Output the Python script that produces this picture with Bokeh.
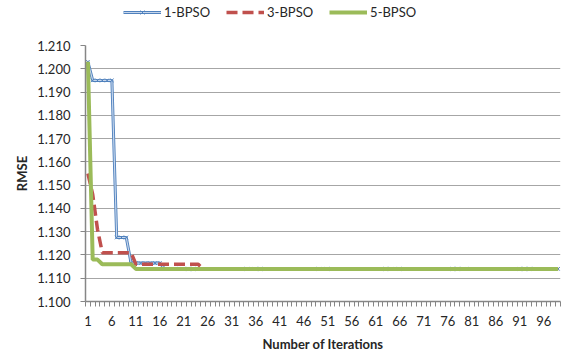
from bokeh.plotting import figure
from bokeh.layouts import column
from bokeh.models import FixedTicker, Legend, LegendItem, Range1d, NumeralTickFormatter
from bokeh.embed import file_html
from bokeh.resources import INLINE

# ---------------- data ----------------
iterations = list(range(1, 100))

bpso1 = [1.203, 1.195, 1.195, 1.195, 1.195, 1.195, 1.1275, 1.1275, 1.1275, 1.1165,
         1.1165, 1.1165, 1.1165, 1.1165, 1.1165, 1.1165, 1.114, 1.114, 1.114, 1.114,
         1.114, 1.114, 1.114, 1.114, 1.114, 1.114, 1.114, 1.114, 1.114, 1.114,
         1.114, 1.114, 1.114, 1.114, 1.114, 1.114, 1.114, 1.114, 1.114, 1.114,
         1.114, 1.114, 1.114, 1.114, 1.114, 1.114, 1.114, 1.114, 1.114, 1.114,
         1.114, 1.114, 1.114, 1.114, 1.114, 1.114, 1.114, 1.114, 1.114, 1.114,
         1.114, 1.114, 1.114, 1.114, 1.114, 1.114, 1.114, 1.114, 1.114, 1.114,
         1.114, 1.114, 1.114, 1.114, 1.114, 1.114, 1.114, 1.114, 1.114, 1.114,
         1.114, 1.114, 1.114, 1.114, 1.114, 1.114, 1.114, 1.114, 1.114, 1.114,
         1.114, 1.114, 1.114, 1.114, 1.114, 1.114, 1.114, 1.114, 1.114]

bpso3 = [1.155, 1.146, 1.131, 1.121, 1.121, 1.121, 1.121, 1.121, 1.121, 1.121,
         1.116, 1.116, 1.116, 1.116, 1.116, 1.116, 1.116, 1.116, 1.116, 1.116,
         1.116, 1.116, 1.116, 1.116, 1.114, 1.114, 1.114, 1.114, 1.114, 1.114,
         1.114, 1.114, 1.114, 1.114, 1.114, 1.114, 1.114, 1.114, 1.114, 1.114,
         1.114, 1.114, 1.114, 1.114, 1.114, 1.114, 1.114, 1.114, 1.114, 1.114,
         1.114, 1.114, 1.114, 1.114, 1.114, 1.114, 1.114, 1.114, 1.114, 1.114,
         1.114, 1.114, 1.114, 1.114, 1.114, 1.114, 1.114, 1.114, 1.114, 1.114,
         1.114, 1.114, 1.114, 1.114, 1.114, 1.114, 1.114, 1.114, 1.114, 1.114,
         1.114, 1.114, 1.114, 1.114, 1.114, 1.114, 1.114, 1.114, 1.114, 1.114,
         1.114, 1.114, 1.114, 1.114, 1.114, 1.114, 1.114, 1.114, 1.114]

bpso5 = [1.203, 1.118, 1.118, 1.116, 1.116, 1.116, 1.116, 1.116, 1.116, 1.116,
         1.114, 1.114, 1.114, 1.114, 1.114, 1.114, 1.114, 1.114, 1.114, 1.114,
         1.114, 1.114, 1.114, 1.114, 1.114, 1.114, 1.114, 1.114, 1.114, 1.114,
         1.114, 1.114, 1.114, 1.114, 1.114, 1.114, 1.114, 1.114, 1.114, 1.114,
         1.114, 1.114, 1.114, 1.114, 1.114, 1.114, 1.114, 1.114, 1.114, 1.114,
         1.114, 1.114, 1.114, 1.114, 1.114, 1.114, 1.114, 1.114, 1.114, 1.114,
         1.114, 1.114, 1.114, 1.114, 1.114, 1.114, 1.114, 1.114, 1.114, 1.114,
         1.114, 1.114, 1.114, 1.114, 1.114, 1.114, 1.114, 1.114, 1.114, 1.114,
         1.114, 1.114, 1.114, 1.114, 1.114, 1.114, 1.114, 1.114, 1.114, 1.114,
         1.114, 1.114, 1.114, 1.114, 1.114, 1.114, 1.114, 1.114, 1.114]

x_tick_values = [1, 6, 11, 16, 21, 26, 31, 36, 41, 46, 51, 56, 61, 66, 71, 76, 81, 86, 91, 96]
y_tick_values = [1.100, 1.110, 1.120, 1.130, 1.140, 1.150, 1.160, 1.170, 1.180, 1.190, 1.200, 1.210]
series_labels = ["1-BPSO", "3-BPSO", "5-BPSO"]

# ---------------- styling ----------------
FONT = "Lato"
TEXT = "#262626"
AXIS = "#868686"
GRID = "#A6A6A6"
BLUE = "#4F81BD"
BLUE_LIGHT = "#C6D6EC"
RED = "#C0504D"
GREEN = "#9BBB59"

blue_outer = dict(line_color=BLUE, line_width=3)
blue_inner = dict(line_color=BLUE_LIGHT, line_width=1.2)
blue_mark = dict(marker="x", size=5, line_color=BLUE, line_width=1)
red_style = dict(line_color=RED, line_width=3.5, line_dash="11 5")
green_style = dict(line_color=GREEN, line_width=4)

# ---------------- main chart ----------------
p = figure(width=566, height=319, output_backend="svg", toolbar_location=None,
           x_range=Range1d(0.5, len(iterations) + 0.5), y_range=Range1d(1.100, 1.210),
           min_border_left=85, min_border_right=6, min_border_top=8, min_border_bottom=55)
p.outline_line_color = None
p.background_fill_color = "white"
p.border_fill_color = "white"
p.xgrid.visible = False
p.ygrid.grid_line_color = GRID
p.ygrid.grid_line_width = 1

p.line(iterations, bpso1, **blue_outer)
p.line(iterations, bpso1, **blue_inner)
p.scatter(iterations, bpso1, **blue_mark)
p.line(iterations, bpso3, **red_style)
p.line(iterations, bpso5, **green_style)

# x axis
p.xaxis.ticker = FixedTicker(ticks=x_tick_values,
                             minor_ticks=[i + 0.5 for i in range(0, len(iterations) + 1)])
p.xaxis.major_tick_out = 0
p.xaxis.major_tick_in = 0
p.xaxis.minor_tick_out = 5
p.xaxis.minor_tick_in = 0
p.xaxis.minor_tick_line_color = AXIS
p.xaxis.axis_line_color = AXIS
p.xaxis.axis_line_width = 1.5
p.xaxis.major_label_standoff = 9
p.xaxis.axis_label = "Number of Iterations"
p.xaxis.axis_label_standoff = 7

# y axis
p.yaxis.ticker = FixedTicker(ticks=y_tick_values, minor_ticks=[])
p.yaxis.formatter = NumeralTickFormatter(format="0.000")
p.yaxis.major_tick_out = 5
p.yaxis.major_tick_in = 0
p.yaxis.major_tick_line_color = AXIS
p.yaxis.axis_line_color = AXIS
p.yaxis.axis_line_width = 1.5
p.yaxis.major_label_standoff = 10
p.yaxis.axis_label = "RMSE"
p.yaxis.axis_label_standoff = 4

for ax in (p.xaxis, p.yaxis):
    ax.major_label_text_font = FONT
    ax.major_label_text_font_size = "13px"
    ax.major_label_text_color = TEXT
    ax.axis_label_text_font = FONT
    ax.axis_label_text_font_size = "13px"
    ax.axis_label_text_font_style = "bold"
    ax.axis_label_text_color = TEXT

# ---------------- legend strip (same series, drawn outside its visible range) ----------------
lg = figure(width=566, height=37, output_backend="svg", toolbar_location=None,
            x_range=Range1d(0, 0.5), y_range=Range1d(0, 0.5),
            x_axis_location=None, y_axis_location=None,
            min_border_left=0, min_border_right=0, min_border_top=0, min_border_bottom=0)
lg.outline_line_color = None
lg.grid.visible = False
lg.border_fill_color = "white"

lb1 = lg.line(iterations, bpso1, **blue_outer)
lb2 = lg.line(iterations, bpso1, **blue_inner)
lb3 = lg.scatter(iterations, bpso1, **blue_mark)
lr = lg.line(iterations, bpso3, **red_style)
lgr = lg.line(iterations, bpso5, **green_style)

legend = Legend(items=[LegendItem(label=series_labels[0], renderers=[lb1, lb2, lb3]),
                       LegendItem(label=series_labels[1], renderers=[lr]),
                       LegendItem(label=series_labels[2], renderers=[lgr])],
                orientation="horizontal", location=(38, 17))
legend.border_line_color = None
legend.background_fill_alpha = 0
legend.label_text_font = FONT
legend.label_text_font_size = "13px"
legend.label_text_color = TEXT
legend.glyph_width = 38
legend.glyph_height = 14
legend.label_standoff = 3
legend.spacing = 16
legend.padding = 0
legend.margin = 0
lg.add_layout(legend)

layout = column(lg, p, spacing=0)
open("out.html", "w").write(file_html(layout, INLINE))
